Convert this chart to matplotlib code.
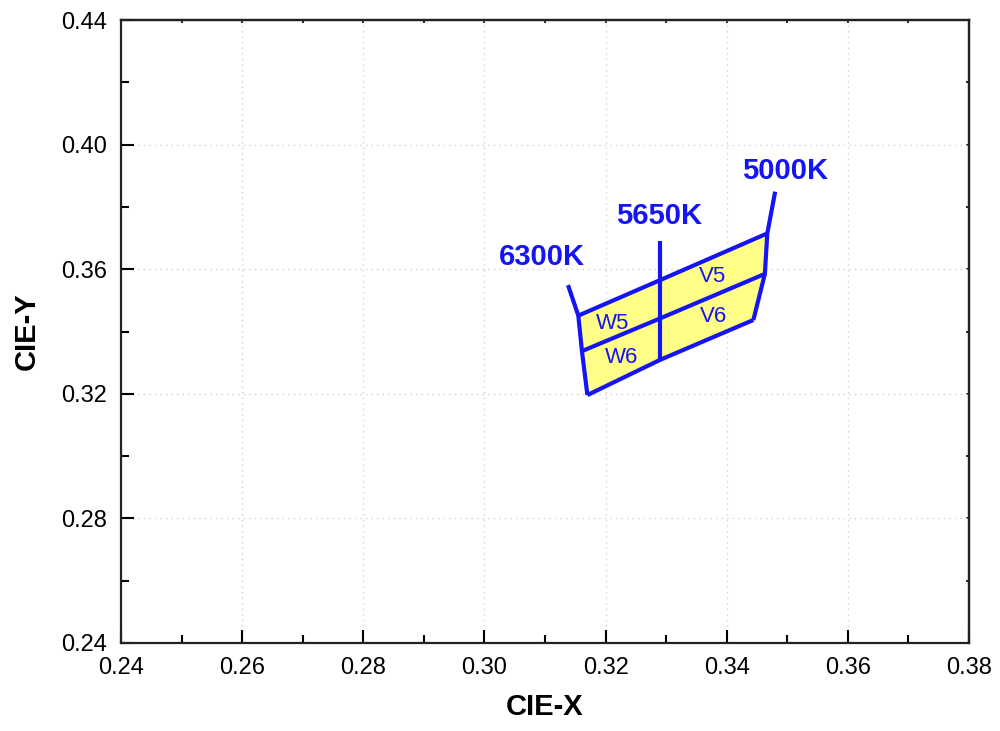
import numpy as np
import matplotlib.pyplot as plt
from matplotlib.ticker import MultipleLocator

plt.rcParams['font.family'] = ['Liberation Sans', 'DejaVu Sans']

# iso-CCT lines, chromaticity points from top to bottom
cct_names = ['6300K', '5650K', '5000K']
cct_x = [[0.3138, 0.3155, 0.3161, 0.3170],
         [0.3290, 0.3290, 0.3290, 0.3290],
         [0.3480, 0.3467, 0.3463, 0.3444]]
cct_y = [[0.3549, 0.3451, 0.3337, 0.3196],
         [0.3692, 0.3565, 0.3442, 0.3309],
         [0.3849, 0.3715, 0.3585, 0.3437]]

# bins: (cct column, row) -> corners taken from the CCT lines
bin_names = ['W5', 'W6', 'V5', 'V6']
bin_cols = [0, 0, 1, 1]
bin_rows = [1, 2, 1, 2]

blue = '#1414f5'
fill = '#ffff88'

fig = plt.figure(figsize=(10, 7.31), dpi=100)
ax = fig.add_axes([0.121, 0.1204, 0.848, 0.8522])

cx = np.array(cct_x)
cy = np.array(cct_y)

for name, c, r in zip(bin_names, bin_cols, bin_rows):
    px = [cx[c, r], cx[c + 1, r], cx[c + 1, r + 1], cx[c, r + 1]]
    py = [cy[c, r], cy[c + 1, r], cy[c + 1, r + 1], cy[c, r + 1]]
    ax.fill(px, py, color=fill, zorder=2, lw=0)

# horizontal bin edges (top, middle, bottom)
for r in range(1, 4):
    ax.plot(cx[:, r], cy[:, r], color=blue, lw=3, zorder=3, solid_capstyle='butt')
# CCT lines
for i in range(3):
    ax.plot(cx[i], cy[i], color=blue, lw=3, zorder=3, solid_capstyle='butt')

lab = dict(color=blue, fontsize=21, fontweight='bold', ha='center', va='center')
ax.text(0.3095, 0.3639, cct_names[0], **lab)
ax.text(0.3288, 0.3771, cct_names[1], **lab)
ax.text(0.3496, 0.3915, cct_names[2], **lab)

blab = dict(color=blue, fontsize=16, ha='center', va='center', zorder=2.5)
ax.text(0.3212, 0.3427, bin_names[0], **blab)
ax.text(0.3226, 0.3318, bin_names[1], **blab)
ax.text(0.3376, 0.3578, bin_names[2], **blab)
ax.text(0.3379, 0.3447, bin_names[3], **blab)

ax.set_xlim(0.24, 0.38)
ax.set_ylim(0.24, 0.44)
ax.xaxis.set_major_locator(MultipleLocator(0.02))
ax.xaxis.set_minor_locator(MultipleLocator(0.01))
ax.yaxis.set_major_locator(MultipleLocator(0.04))
ax.yaxis.set_minor_locator(MultipleLocator(0.02))
ax.xaxis.set_major_formatter(lambda v, p: f'{v:.2f}')
ax.yaxis.set_major_formatter(lambda v, p: f'{v:.2f}')
ax.tick_params(which='major', direction='in', length=9.5, width=1.5, labelsize=17, pad=10)
ax.tick_params(which='minor', direction='in', length=5.5, width=1.5)
ax.grid(True, which='major', color='#d0d0d0', ls=(0, (1, 3)), lw=1, zorder=0)
for s in ax.spines.values():
    s.set_linewidth(1.6)
    s.set_color('#222222')

# short ticks on the top and right frame
top = ax.secondary_xaxis('top')
top.xaxis.set_major_locator(MultipleLocator(0.01))
top.tick_params(direction='in', length=2.5, width=1.2, labeltop=False)
right = ax.secondary_yaxis('right')
right.yaxis.set_major_locator(MultipleLocator(0.02))
right.tick_params(direction='in', length=2.5, width=1.2, labelright=False)
for sa in (top, right):
    for s in sa.spines.values():
        s.set_linewidth(1.6)
        s.set_color('#222222')

ax.set_xlabel('CIE-X', fontsize=21, fontweight='bold', labelpad=10)
ax.set_ylabel('CIE-Y', fontsize=21, fontweight='bold', labelpad=15)

fig.savefig('out.png', dpi=100)
